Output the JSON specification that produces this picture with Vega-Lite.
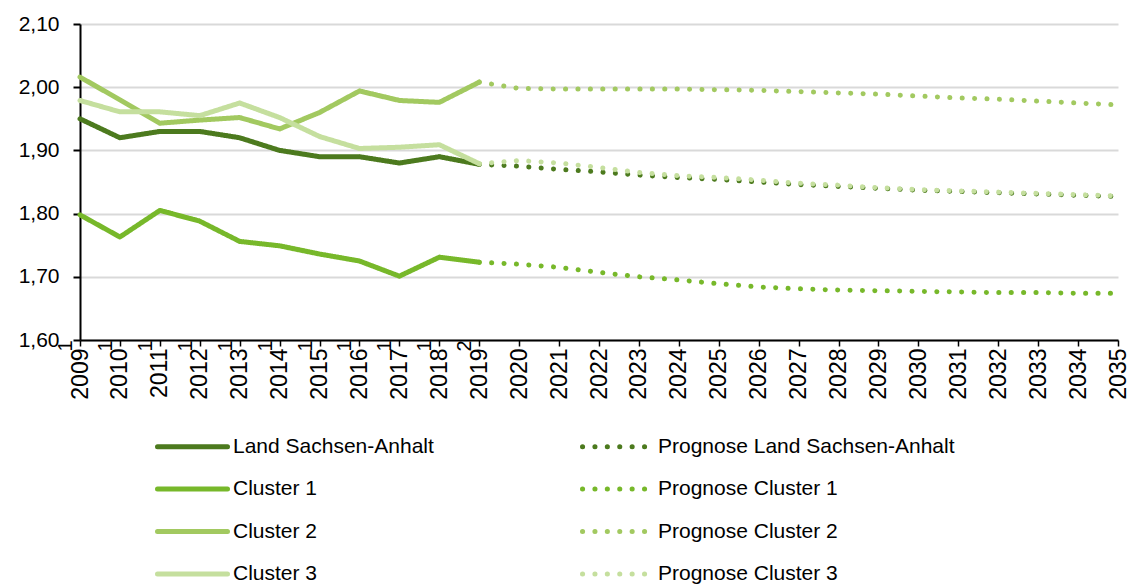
{
  "$schema": "https://vega.github.io/schema/vega-lite/v6.json",
  "width": 1038,
  "height": 316,
  "autosize": {"type": "none"},
  "padding": {"left": 80, "top": 24, "right": 11, "bottom": 245},
  "background": "white",
  "config": {
    "font": "Liberation Sans",
    "view": {"stroke": null},
    "axisY": {"domainColor": "black", "domainWidth": 2, "tickColor": "black", "tickWidth": 2, "tickSize": 7, "labelFontSize": 21, "labelColor": "black", "labelPadding": 14, "gridColor": "#d9d9d9", "gridWidth": 2},
    "axisX": {"domainColor": "black", "domainWidth": 2, "tickColor": "black", "tickWidth": 1.5, "tickSize": 6, "labelFontSize": 23, "labelAngle": 270, "labelAlign": "right", "labelBaseline": "middle", "labelPadding": 2, "grid": false, "labelColor": "black", "labelOverlap": false, "labelFlush": false}
  },
  "datasets": {
    "lines": [
      {"series": "Land Sachsen-Anhalt", "year": 2009, "value": 1.95},
      {"series": "Land Sachsen-Anhalt", "year": 2010, "value": 1.92},
      {"series": "Land Sachsen-Anhalt", "year": 2011, "value": 1.93},
      {"series": "Land Sachsen-Anhalt", "year": 2012, "value": 1.93},
      {"series": "Land Sachsen-Anhalt", "year": 2013, "value": 1.92},
      {"series": "Land Sachsen-Anhalt", "year": 2014, "value": 1.90},
      {"series": "Land Sachsen-Anhalt", "year": 2015, "value": 1.89},
      {"series": "Land Sachsen-Anhalt", "year": 2016, "value": 1.89},
      {"series": "Land Sachsen-Anhalt", "year": 2017, "value": 1.88},
      {"series": "Land Sachsen-Anhalt", "year": 2018, "value": 1.89},
      {"series": "Land Sachsen-Anhalt", "year": 2019, "value": 1.878},
      {"series": "Prognose Land Sachsen-Anhalt", "year": 2019, "value": 1.878},
      {"series": "Prognose Land Sachsen-Anhalt", "year": 2020, "value": 1.875},
      {"series": "Prognose Land Sachsen-Anhalt", "year": 2021, "value": 1.870},
      {"series": "Prognose Land Sachsen-Anhalt", "year": 2022, "value": 1.866},
      {"series": "Prognose Land Sachsen-Anhalt", "year": 2023, "value": 1.861},
      {"series": "Prognose Land Sachsen-Anhalt", "year": 2024, "value": 1.857},
      {"series": "Prognose Land Sachsen-Anhalt", "year": 2025, "value": 1.854},
      {"series": "Prognose Land Sachsen-Anhalt", "year": 2026, "value": 1.850},
      {"series": "Prognose Land Sachsen-Anhalt", "year": 2027, "value": 1.846},
      {"series": "Prognose Land Sachsen-Anhalt", "year": 2028, "value": 1.843},
      {"series": "Prognose Land Sachsen-Anhalt", "year": 2029, "value": 1.840},
      {"series": "Prognose Land Sachsen-Anhalt", "year": 2030, "value": 1.837},
      {"series": "Prognose Land Sachsen-Anhalt", "year": 2031, "value": 1.835},
      {"series": "Prognose Land Sachsen-Anhalt", "year": 2032, "value": 1.833},
      {"series": "Prognose Land Sachsen-Anhalt", "year": 2033, "value": 1.831},
      {"series": "Prognose Land Sachsen-Anhalt", "year": 2034, "value": 1.829},
      {"series": "Prognose Land Sachsen-Anhalt", "year": 2035, "value": 1.827},
      {"series": "Cluster 1", "year": 2009, "value": 1.798},
      {"series": "Cluster 1", "year": 2010, "value": 1.763},
      {"series": "Cluster 1", "year": 2011, "value": 1.805},
      {"series": "Cluster 1", "year": 2012, "value": 1.788},
      {"series": "Cluster 1", "year": 2013, "value": 1.756},
      {"series": "Cluster 1", "year": 2014, "value": 1.749},
      {"series": "Cluster 1", "year": 2015, "value": 1.736},
      {"series": "Cluster 1", "year": 2016, "value": 1.725},
      {"series": "Cluster 1", "year": 2017, "value": 1.701},
      {"series": "Cluster 1", "year": 2018, "value": 1.731},
      {"series": "Cluster 1", "year": 2019, "value": 1.723},
      {"series": "Prognose Cluster 1", "year": 2019, "value": 1.723},
      {"series": "Prognose Cluster 1", "year": 2020, "value": 1.720},
      {"series": "Prognose Cluster 1", "year": 2021, "value": 1.715},
      {"series": "Prognose Cluster 1", "year": 2022, "value": 1.707},
      {"series": "Prognose Cluster 1", "year": 2023, "value": 1.700},
      {"series": "Prognose Cluster 1", "year": 2024, "value": 1.695},
      {"series": "Prognose Cluster 1", "year": 2025, "value": 1.689},
      {"series": "Prognose Cluster 1", "year": 2026, "value": 1.684},
      {"series": "Prognose Cluster 1", "year": 2027, "value": 1.681},
      {"series": "Prognose Cluster 1", "year": 2028, "value": 1.679},
      {"series": "Prognose Cluster 1", "year": 2029, "value": 1.678},
      {"series": "Prognose Cluster 1", "year": 2030, "value": 1.677},
      {"series": "Prognose Cluster 1", "year": 2031, "value": 1.676},
      {"series": "Prognose Cluster 1", "year": 2032, "value": 1.675},
      {"series": "Prognose Cluster 1", "year": 2033, "value": 1.675},
      {"series": "Prognose Cluster 1", "year": 2034, "value": 1.674},
      {"series": "Prognose Cluster 1", "year": 2035, "value": 1.674},
      {"series": "Cluster 2", "year": 2009, "value": 2.016},
      {"series": "Cluster 2", "year": 2010, "value": 1.980},
      {"series": "Cluster 2", "year": 2011, "value": 1.943},
      {"series": "Cluster 2", "year": 2012, "value": 1.948},
      {"series": "Cluster 2", "year": 2013, "value": 1.952},
      {"series": "Cluster 2", "year": 2014, "value": 1.934},
      {"series": "Cluster 2", "year": 2015, "value": 1.960},
      {"series": "Cluster 2", "year": 2016, "value": 1.994},
      {"series": "Cluster 2", "year": 2017, "value": 1.979},
      {"series": "Cluster 2", "year": 2018, "value": 1.976},
      {"series": "Cluster 2", "year": 2019, "value": 2.008},
      {"series": "Prognose Cluster 2", "year": 2019, "value": 2.008},
      {"series": "Prognose Cluster 2", "year": 2020, "value": 1.998},
      {"series": "Prognose Cluster 2", "year": 2021, "value": 1.997},
      {"series": "Prognose Cluster 2", "year": 2022, "value": 1.997},
      {"series": "Prognose Cluster 2", "year": 2023, "value": 1.997},
      {"series": "Prognose Cluster 2", "year": 2024, "value": 1.997},
      {"series": "Prognose Cluster 2", "year": 2025, "value": 1.996},
      {"series": "Prognose Cluster 2", "year": 2026, "value": 1.995},
      {"series": "Prognose Cluster 2", "year": 2027, "value": 1.993},
      {"series": "Prognose Cluster 2", "year": 2028, "value": 1.991},
      {"series": "Prognose Cluster 2", "year": 2029, "value": 1.989},
      {"series": "Prognose Cluster 2", "year": 2030, "value": 1.986},
      {"series": "Prognose Cluster 2", "year": 2031, "value": 1.983},
      {"series": "Prognose Cluster 2", "year": 2032, "value": 1.981},
      {"series": "Prognose Cluster 2", "year": 2033, "value": 1.978},
      {"series": "Prognose Cluster 2", "year": 2034, "value": 1.975},
      {"series": "Prognose Cluster 2", "year": 2035, "value": 1.972},
      {"series": "Cluster 3", "year": 2009, "value": 1.979},
      {"series": "Cluster 3", "year": 2010, "value": 1.961},
      {"series": "Cluster 3", "year": 2011, "value": 1.961},
      {"series": "Cluster 3", "year": 2012, "value": 1.955},
      {"series": "Cluster 3", "year": 2013, "value": 1.975},
      {"series": "Cluster 3", "year": 2014, "value": 1.952},
      {"series": "Cluster 3", "year": 2015, "value": 1.922},
      {"series": "Cluster 3", "year": 2016, "value": 1.903},
      {"series": "Cluster 3", "year": 2017, "value": 1.905},
      {"series": "Cluster 3", "year": 2018, "value": 1.909},
      {"series": "Cluster 3", "year": 2019, "value": 1.879},
      {"series": "Prognose Cluster 3", "year": 2019, "value": 1.879},
      {"series": "Prognose Cluster 3", "year": 2020, "value": 1.884},
      {"series": "Prognose Cluster 3", "year": 2021, "value": 1.880},
      {"series": "Prognose Cluster 3", "year": 2022, "value": 1.873},
      {"series": "Prognose Cluster 3", "year": 2023, "value": 1.865},
      {"series": "Prognose Cluster 3", "year": 2024, "value": 1.860},
      {"series": "Prognose Cluster 3", "year": 2025, "value": 1.857},
      {"series": "Prognose Cluster 3", "year": 2026, "value": 1.853},
      {"series": "Prognose Cluster 3", "year": 2027, "value": 1.848},
      {"series": "Prognose Cluster 3", "year": 2028, "value": 1.845},
      {"series": "Prognose Cluster 3", "year": 2029, "value": 1.841},
      {"series": "Prognose Cluster 3", "year": 2030, "value": 1.838},
      {"series": "Prognose Cluster 3", "year": 2031, "value": 1.836},
      {"series": "Prognose Cluster 3", "year": 2032, "value": 1.834},
      {"series": "Prognose Cluster 3", "year": 2033, "value": 1.832},
      {"series": "Prognose Cluster 3", "year": 2034, "value": 1.830},
      {"series": "Prognose Cluster 3", "year": 2035, "value": 1.828}
    ],
    "marks": [
      {"year": 2009, "label": "1"}, {"year": 2010, "label": "1"}, {"year": 2011, "label": "1"},
      {"year": 2012, "label": "1"}, {"year": 2013, "label": "1"}, {"year": 2014, "label": "1"},
      {"year": 2015, "label": "1"}, {"year": 2016, "label": "1"}, {"year": 2017, "label": "1"},
      {"year": 2018, "label": "1"}, {"year": 2019, "label": "2"}
    ]
  },
  "encoding": {
    "x": {"type": "quantitative", "scale": {"domain": [2009, 2035], "nice": false, "zero": false},
          "axis": {"title": null, "labelOverlap": false, "labelFlush": false, "labelBound": false, "values": [2009,2010,2011,2012,2013,2014,2015,2016,2017,2018,2019,2020,2021,2022,2023,2024,2025,2026,2027,2028,2029,2030,2031,2032,2033,2034,2035], "format": "d"}}
  },
  "layer": [
    {
      "data": {"name": "lines"},
      "mark": {"type": "line", "strokeWidth": 5, "strokeCap": "round", "strokeJoin": "round"},
      "encoding": {
        "x": {"field": "year", "type": "quantitative", "scale": {"domain": [2009, 2035], "nice": false, "zero": false},
              "axis": {"title": null, "labelOverlap": false, "labelFlush": false, "labelBound": false, "values": [2009,2010,2011,2012,2013,2014,2015,2016,2017,2018,2019,2020,2021,2022,2023,2024,2025,2026,2027,2028,2029,2030,2031,2032,2033,2034,2035], "format": "d"}},
        "y": {"field": "value", "type": "quantitative", "scale": {"domain": [1.6, 2.1], "nice": false, "zero": false},
              "axis": {"title": null, "values": [1.6,1.65,1.7,1.75,1.8,1.85,1.9,1.95,2.0,2.05,2.1],
                       "labelExpr": "round(datum.value*100) % 10 == 0 ? replace(format(datum.value, '.2f'), '.', ',') : ''",
                       "gridOpacity": {"condition": {"test": "round(datum.value*100) % 10 == 0", "value": 1}, "value": 0}}},
        "color": {"field": "series", "type": "nominal",
                  "scale": {"domain": ["Land Sachsen-Anhalt", "Cluster 1", "Cluster 2", "Cluster 3", "Prognose Land Sachsen-Anhalt", "Prognose Cluster 1", "Prognose Cluster 2", "Prognose Cluster 3"],
                            "range": ["#4c7a1e", "#77b82a", "#a2c960", "#c5df9e", "#4c7a1e", "#77b82a", "#a2c960", "#c5df9e"]},
                  "legend": {"title": null, "orient": "none", "legendX": 67, "legendY": 412, "columns": 2,
                             "labelFontSize": 21, "labelColor": "black", "labelLimit": 0,
                             "symbolType": "M0,0H14", "symbolSize": 100, "symbolStrokeWidth": 5,
                             "labelOffset": 65, "rowPadding": 20.5, "columnPadding": 138,
                             "encode": {"symbols": {"update": {"strokeCap": {"value": "round"}}}}}},
        "strokeDash": {"field": "series", "type": "nominal",
                  "scale": {"domain": ["Land Sachsen-Anhalt", "Cluster 1", "Cluster 2", "Cluster 3", "Prognose Land Sachsen-Anhalt", "Prognose Cluster 1", "Prognose Cluster 2", "Prognose Cluster 3"],
                            "range": [[1, 0], [1, 0], [1, 0], [1, 0], [0.1, 12.3], [0.1, 12.3], [0.1, 12.3], [0.1, 12.3]]},
                  "legend": {"title": null}}
      }
    },
    {
      "data": {"name": "marks"},
      "mark": {"type": "text", "angle": 270, "fontSize": 20, "color": "black", "dx": -6, "dy": -14, "align": "center", "baseline": "middle"},
      "encoding": {
        "x": {"field": "year", "type": "quantitative", "scale": {"domain": [2009, 2035], "nice": false, "zero": false},
              "axis": {"title": null, "labelOverlap": false, "labelFlush": false, "labelBound": false, "values": [2009,2010,2011,2012,2013,2014,2015,2016,2017,2018,2019,2020,2021,2022,2023,2024,2025,2026,2027,2028,2029,2030,2031,2032,2033,2034,2035], "format": "d"}},
        "y": {"datum": 1.6, "type": "quantitative"},
        "text": {"field": "label"}
      }
    }
  ]
}
